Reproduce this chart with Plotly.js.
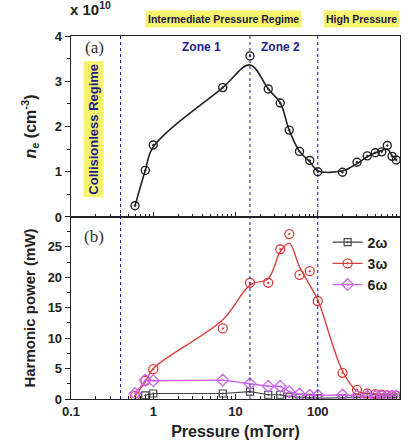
<!DOCTYPE html>
<html>
<head>
<meta charset="utf-8">
<script src="https://cdn.plot.ly/plotly-3.0.1.min.js"></script>
<style>html,body{margin:0;padding:0;background:#fff;}#chart{width:414px;height:447px;}</style>
</head>
<body>
<div id="chart"></div>
<script>
// Pressure (mTorr)
const pressure = [0.6, 0.8, 1, 7, 15, 25, 35, 45, 60, 80, 100, 200, 300, 400, 500, 600, 700, 800, 900];
// Electron density (x 1e10 cm^-3) - measured points
const neVals = [0.25, 1.03, 1.59, 2.86, 3.56, 2.83, 2.52, 1.92, 1.45, 1.25, 1.0, 0.99, 1.21, 1.35, 1.42, 1.44, 1.58, 1.34, 1.26];
// Electron density smooth guide curve
const neCurve = [0.25, 1.03, 1.55, 2.86, 3.36, 2.83, 2.52, 1.92, 1.45, 1.22, 1.02, 1.02, 1.18, 1.33, 1.42, 1.47, 1.5, 1.36, 1.26];
// Harmonic power (mW)
const p3w = [0.5, 3.0, 4.9, 11.6, 19.1, 19.1, 24.6, 27.1, 20.4, 21.0, 16.1, 4.3, 1.5, 0.9, 0.8, 0.7, 0.6, 0.6, 0.6];
const p3wCurve = [0.5, 2.8, 5.0, 13.0, 18.7, 19.8, 24.2, 25.6, 21.7, 18.7, 16.3, 4.6, 1.3, 0.9, 0.8, 0.7, 0.6, 0.6, 0.6];
const pressure2w = [0.8, 1, 7, 15, 25, 35, 45, 60, 80, 100, 200, 300, 400, 500, 600, 700, 800, 900];
const p2w = [0.6, 0.9, 0.9, 1.2, 0.7, 0.7, 0.4, 0.25, 0.2, 0.15, 0.15, 0.25, 0.3, 0.25, 0.25, 0.25, 0.25, 0.25];
const p6w = [0.9, 3.1, 3.0, 3.1, 2.5, 2.1, 2.1, 1.2, 0.8, 0.6, 0.6, 0.65, 0.5, 0.45, 0.45, 0.45, 0.45, 0.45, 0.45];
// Regime boundaries (mTorr)
const regimeBounds = [0.4, 15, 100];
const seriesNames = ['2ω', '3ω', '6ω'];
const majorTicks = [0.1, 1, 10, 100, 1000];
const majorLabels = ['0.1', '1', '10', '100', '1000'];

const minorTicks = [];
[0.1, 1, 10, 100].forEach(d => { for (let k = 2; k <= 9; k++) minorTicks.push(+(d * k).toPrecision(3)); });

const F = 'Liberation Sans, Arial, sans-serif';
const black = '#222';
const red = '#d8403c';
const purple = '#cc66ee';
const gray = '#444';
const navy = '#1c1c8a';
const yellow = '#f6f36c';

const traces = [
  {x: pressure, y: neCurve, xaxis: 'x', yaxis: 'y', mode: 'lines', line: {color: black, width: 1.6, shape: 'spline', smoothing: 1}, showlegend: false, hoverinfo: 'skip'},
  {x: pressure, y: neVals, xaxis: 'x', yaxis: 'y', mode: 'markers', marker: {symbol: 'circle-open-dot', size: 8, color: black, line: {width: 1.4, color: black}}, showlegend: false},
  {x: pressure, y: p3wCurve, xaxis: 'x2', yaxis: 'y2', mode: 'lines', line: {color: red, width: 1.4, shape: 'spline', smoothing: 1}, showlegend: false, hoverinfo: 'skip'},
  {x: pressure2w, y: p2w, xaxis: 'x2', yaxis: 'y2', mode: 'lines+markers', name: seriesNames[0], line: {color: gray, width: 1.2}, marker: {symbol: 'square-open-dot', size: 7, color: gray, line: {width: 1.2, color: gray}}},
  {x: pressure, y: p3w, xaxis: 'x2', yaxis: 'y2', mode: 'markers', name: seriesNames[1], showlegend: false, marker: {symbol: 'circle-open-dot', size: 9, color: red, line: {width: 1.3, color: red}}},
  {x: [null], y: [null], xaxis: 'x2', yaxis: 'y2', mode: 'lines+markers', name: seriesNames[1], line: {color: red, width: 1.4}, marker: {symbol: 'circle-open-dot', size: 9, color: red, line: {width: 1.3, color: red}}},
  {x: pressure, y: p6w, xaxis: 'x2', yaxis: 'y2', mode: 'lines+markers', name: seriesNames[2], line: {color: purple, width: 1.4}, marker: {symbol: 'diamond-open-dot', size: 9, color: purple, line: {width: 1.3, color: purple}}}
];

const xCommon = {
  type: 'log', range: [-1, 3], showline: true, linecolor: black, linewidth: 1.3, mirror: true,
  ticks: 'inside', ticklen: 5, tickcolor: black, showgrid: false, zeroline: false,
  tickmode: 'array', tickvals: majorTicks, ticktext: majorLabels,
  minor: {tickmode: 'array', tickvals: minorTicks, ticks: 'inside', ticklen: 3, tickcolor: black, showgrid: false},
  tickfont: {family: F, size: 13, color: black, weight: 'bold'}
};

const shapes = regimeBounds.map(v => ({
  type: 'line', xref: 'x', yref: 'paper', x0: v, x1: v, y0: 0, y1: 1,
  line: {color: navy, width: 1, dash: 'dot'}
}));

const ann = (text, x, y, opts) => Object.assign({text, xref: 'paper', yref: 'paper', x, y, showarrow: false,
  xanchor: 'center', yanchor: 'middle',
  font: {family: F, size: 12, color: navy}}, opts || {});

const layout = {
  width: 414, height: 447,
  margin: {l: 71, r: 14, t: 36, b: 48},
  paper_bgcolor: '#fff', plot_bgcolor: '#fff',
  font: {family: F, color: black},
  xaxis: Object.assign({}, xCommon, {anchor: 'y', showticklabels: false, matches: 'x2'}),
  xaxis2: Object.assign({}, xCommon, {anchor: 'y2',
    title: {text: '<b>Pressure (mTorr)</b>', font: {family: F, size: 16, color: black}, standoff: 8}}),
  yaxis: {
    domain: [0.5014, 1], range: [0, 4], dtick: 1, showline: true, linecolor: black, linewidth: 1.3, mirror: true,
    ticks: 'outside', ticklen: 5, tickcolor: black, showgrid: false, zeroline: false,
    minor: {ticks: 'outside', ticklen: 3, dtick: 0.5, tickcolor: black, showgrid: false},
    tickfont: {family: F, size: 13, color: black, weight: 'bold'},
    title: {text: '<b><i>n</i><sub>e</sub> (cm<sup>-3</sup>)</b>', font: {family: F, size: 16, color: black}, standoff: 14}
  },
  yaxis2: {
    domain: [0, 0.5014], range: [0, 29.9], dtick: 5, showline: true, linecolor: black, linewidth: 1.3, mirror: true,
    ticks: 'outside', ticklen: 5, tickcolor: black, showgrid: false, zeroline: false,
    minor: {ticks: 'outside', ticklen: 3, dtick: 2.5, tickcolor: black, showgrid: false},
    tickfont: {family: F, size: 13, color: black, weight: 'bold'},
    title: {text: '<b>Harmonic power (mW)</b>', font: {family: F, size: 15, color: black}, standoff: 8}
  },
  showlegend: true,
  legend: {x: 0.78, y: 0.475, xanchor: 'left', yanchor: 'top', bgcolor: 'rgba(0,0,0,0)',
    font: {family: F, size: 14, color: black, weight: 'bold'}, tracegroupgap: 0, itemwidth: 30},
  shapes: shapes,
  annotations: [
    ann('<b>x 10<sup>10</sup></b>', -0.01, 1.045, {xanchor: 'left', yanchor: 'bottom', font: {family: F, size: 15, color: black}}),
    ann('<b>Intermediate Pressure Regime</b>', 0.465, 1.048, {bgcolor: yellow, font: {family: F, size: 10.5, color: '#1a1a40'}, borderpad: 2}),
    ann('<b>High Pressure</b>', 0.884, 1.048, {bgcolor: yellow, font: {family: F, size: 10.5, color: '#1a1a40'}, borderpad: 2}),
    ann('<b>Collisionless Regime</b>', 0.068, 0.743, {textangle: -90, bgcolor: yellow, font: {family: F, size: 13, color: navy}, borderpad: 2}),
    ann('<b>Zone 1</b>', 0.398, 0.969, {font: {family: F, size: 12, color: navy}}),
    ann('<b>Zone 2</b>', 0.638, 0.969, {font: {family: F, size: 12, color: navy}}),
    ann('(a)', 0.07, 0.969, {font: {family: 'Liberation Serif, Times New Roman, serif', size: 17, color: '#333'}}),
    ann('(b)', 0.07, 0.449, {font: {family: 'Liberation Serif, Times New Roman, serif', size: 17, color: '#333'}})
  ]
};

Plotly.newPlot('chart', traces, layout, {displayModeBar: false, staticPlot: true});
</script>
</body>
</html>
